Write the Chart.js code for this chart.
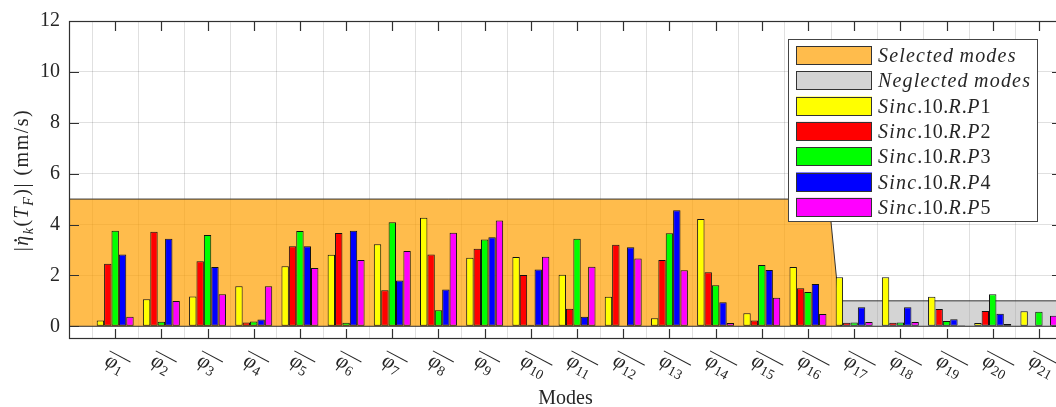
<!DOCTYPE html>
<html><head><meta charset="utf-8">
<script src="https://cdn.jsdelivr.net/npm/chart.js@4.4.1/dist/chart.umd.min.js"></script>
<style>
html,body{margin:0;padding:0;overflow:hidden;background:#fff;width:1056px;height:407px;}
#wrap{position:absolute;left:0;top:0;width:1070px;height:411px;}
canvas{display:block;}
</style></head><body>
<div id="wrap"><canvas id="c" width="1070" height="411"></canvas></div>
<script>
// ---------- data ----------
const modes = [1,2,3,4,5,6,7,8,9,10,11,12,13,14,15,16,17,18,19,20,21];
const modeLabels = ['1','2','3','4','5','6','7','8','9','10','11','12','13','14','15','16','17','18','19','20','21'];
const seriesNames = ['Sinc.10.R.P1','Sinc.10.R.P2','Sinc.10.R.P3','Sinc.10.R.P4','Sinc.10.R.P5'];
const p1 = [0.23,1.06,1.17,1.57,2.36,2.81,3.22,4.27,2.69,2.72,2.03,1.16,0.32,4.22,0.51,2.33,1.93,1.93,1.16,0.13,0.59];
const p2 = [2.46,3.72,2.56,0.15,3.15,3.67,1.42,2.82,3.05,2.02,0.69,3.20,2.61,2.12,0.23,1.49,0.14,0.14,0.68,0.60,0.00];
const p3 = [3.76,0.18,3.59,0.19,3.75,0.14,4.09,0.63,3.41,0.06,3.44,0.02,3.66,1.61,2.41,1.35,0.15,0.15,0.21,1.26,0.57];
const p4 = [2.82,3.44,2.33,0.27,3.15,3.76,1.80,1.45,3.50,2.23,0.37,3.11,4.56,0.94,2.21,1.66,0.75,0.75,0.28,0.49,0.02];
const p5 = [0.37,0.99,1.26,1.57,2.29,2.61,2.96,3.68,4.16,2.73,2.34,2.66,2.20,0.13,1.12,0.48,0.17,0.17,0.04,0.09,0.41];
const seriesColors = ['#ffff00','#ff0000','#00ff00','#0000ff','#ff00ff'];
const selectedArea = [[0,0],[0,5],[16.45,5],[16.72,0],[0,0]];
const neglectedArea = [[16.72,0],[16.72,1],[22,1],[22,0],[16.72,0]];
const areaNames = ['Selected modes','Neglected modes'];
const yTickStep = 2;

// ---------- helpers ----------
const SERIF = '"Liberation Serif","DejaVu Serif",serif';
const TXT = '#262626';
function fnt(style,size){return style+' '+size+'px '+SERIF;}
function richWidth(ctx,segs){let w=0;for(const s of segs){ctx.font=fnt(s.it?'italic':'normal',s.size);for(const ch of [...s.t]){w+=ctx.measureText(ch).width+(s.sp||0);}}return w;}
function drawRich(ctx,segs,x,y){for(const s of segs){ctx.font=fnt(s.it?'italic':'normal',s.size);for(const ch of [...s.t]){ctx.fillText(ch,x,y+(s.dy||0));if(s.dot){const w=ctx.measureText(ch).width;ctx.beginPath();ctx.arc(x+w*0.55,y-s.size*0.62,1.3,0,Math.PI*2);ctx.fill();}x+=ctx.measureText(ch).width+(s.sp||0);}}return x;}
function labelSegs(label,size,sp){const segs=[];for(const ch of [...label]){const it=/[A-Za-z]/.test(ch);segs.push({t:ch,it:it,size:size,sp:it?sp:0.3});}return segs;}

const datasets = [
  {type:'line',label:areaNames[0],data:selectedArea.map(p=>({x:p[0],y:p[1]})),backgroundColor:'rgba(255,160,0,0.7)',borderColor:'#333',borderWidth:1,fill:'shape',pointRadius:0,tension:0,order:10},
  {type:'line',label:areaNames[1],data:neglectedArea.map(p=>({x:p[0],y:p[1]})),backgroundColor:'rgba(160,160,160,0.45)',borderColor:'#333',borderWidth:1,fill:'shape',pointRadius:0,tension:0,order:9}
];
[p1,p2,p3,p4,p5].forEach((arr,i)=>{
  datasets.push({type:'bar',label:seriesNames[i],data:arr.map((v,k)=>({x:modes[k],y:v})),backgroundColor:seriesColors[i],borderColor:'#111',borderWidth:1,borderSkipped:false,barPercentage:1.0,categoryPercentage:0.8,order:1});
});

const decor = {
  id:'decor',
  afterDatasetsDraw(chart){
    const ctx=chart.ctx, a=chart.chartArea, xs=chart.scales.x, ys=chart.scales.y;
    ctx.save();
    ctx.strokeStyle='#303030'; ctx.lineWidth=1.2;
    ctx.strokeRect(a.left+0.5,a.top+0.5,a.right-a.left-1,a.bottom-a.top-1);
    ctx.beginPath();
    const TL=10;
    for(const m of modes){const x=Math.round(xs.getPixelForValue(m))+0.5;ctx.moveTo(x,a.bottom);ctx.lineTo(x,a.bottom-TL);ctx.moveTo(x,a.top);ctx.lineTo(x,a.top+TL);}
    for(const t of ys.ticks){const y=Math.round(ys.getPixelForValue(t.value))+0.5;ctx.moveTo(a.left,y);ctx.lineTo(a.left+TL,y);ctx.moveTo(a.right,y);ctx.lineTo(a.right-TL,y);}
    ctx.stroke();
    ctx.restore();
  },
  afterDraw(chart){
    const ctx=chart.ctx, a=chart.chartArea, xs=chart.scales.x;
    ctx.save();
    ctx.fillStyle=TXT; ctx.strokeStyle=TXT; ctx.textBaseline='alphabetic'; ctx.textAlign='left';
    // x tick labels (rotated, overlined phi with subscript)
    const ang=28*Math.PI/180;
    modes.forEach((m,k)=>{
      const px=xs.getPixelForValue(m);
      ctx.save(); ctx.translate(px-4,a.bottom+11); ctx.rotate(ang);
      const base=16;
      ctx.font=fnt('italic',21); ctx.fillText('\u03C6',0,base); const w1=ctx.measureText('\u03C6').width;
      ctx.font=fnt('normal',14); ctx.fillText(modeLabels[k],w1+0.5,base+4); const w2=ctx.measureText(modeLabels[k]).width;
      ctx.lineWidth=1; ctx.beginPath(); ctx.moveTo(-1,1.5); ctx.lineTo(w1+w2+4,1.5); ctx.stroke();
      ctx.restore();
    });
    // y title
    const ySegs=[
      {t:'|',size:20,sp:1.5},{t:'\u03B7',it:true,size:20,sp:1.5,dot:true},{t:'k',it:true,size:14,dy:5,sp:1.5},
      {t:'(',size:20,sp:1.5},{t:'T',it:true,size:20,sp:1.5},{t:'F',it:true,size:14,dy:5,sp:1.5},
      {t:')|',size:20,sp:1.5},{t:' (mm/s)',size:20,sp:1.5}];
    const W=richWidth(ctx,ySegs);
    ctx.save(); ctx.translate(23,(a.top+a.bottom)/2); ctx.rotate(-Math.PI/2);
    drawRich(ctx,ySegs,-W/2,5);
    ctx.restore();
    // legend
    const lx=788.5, ly=39.5, lw=249, lh=182;
    ctx.fillStyle='#fff'; ctx.fillRect(lx,ly,lw,lh);
    ctx.strokeStyle='#444'; ctx.lineWidth=1; ctx.strokeRect(lx,ly,lw,lh);
    chart.data.datasets.forEach((ds,i)=>{
      const top=46+i*25.3;
      ctx.fillStyle=ds.backgroundColor; ctx.fillRect(796,top,76,18.5);
      ctx.strokeStyle='#333'; ctx.strokeRect(796.5,Math.round(top)+0.5,75,18);
      ctx.fillStyle=TXT;
      drawRich(ctx,labelSegs(ds.label,20,1.2),878,top+16);
    });
    ctx.restore();
  }
};

new Chart(document.getElementById('c'),{
  type:'bar',
  data:{datasets:datasets},
  options:{
    responsive:false, animation:false, devicePixelRatio:1,
    layout:{padding:{top:14,right:8,left:0,bottom:0}},
    plugins:{legend:{display:false},tooltip:{enabled:false}},
    scales:{
      x:{type:'linear',min:0,max:21.5,offset:false,
        ticks:{display:false,stepSize:1,includeBounds:false},
        grid:{color:'rgba(0,0,0,0.12)',drawTicks:false,lineWidth:1},
        border:{display:false},
        title:{display:true,text:'Modes',color:TXT,font:{family:SERIF,size:20},padding:0},
        afterFit(s){s.height=72;}},
      y:{min:-0.5,max:12,
        ticks:{stepSize:yTickStep,includeBounds:false,color:TXT,font:{family:SERIF,size:20},padding:9},
        grid:{color:'rgba(0,0,0,0.12)',drawTicks:false,lineWidth:1},
        border:{display:false},
        afterFit(s){s.width=69;}}
    }
  },
  plugins:[decor]
});
</script>
</body></html>
